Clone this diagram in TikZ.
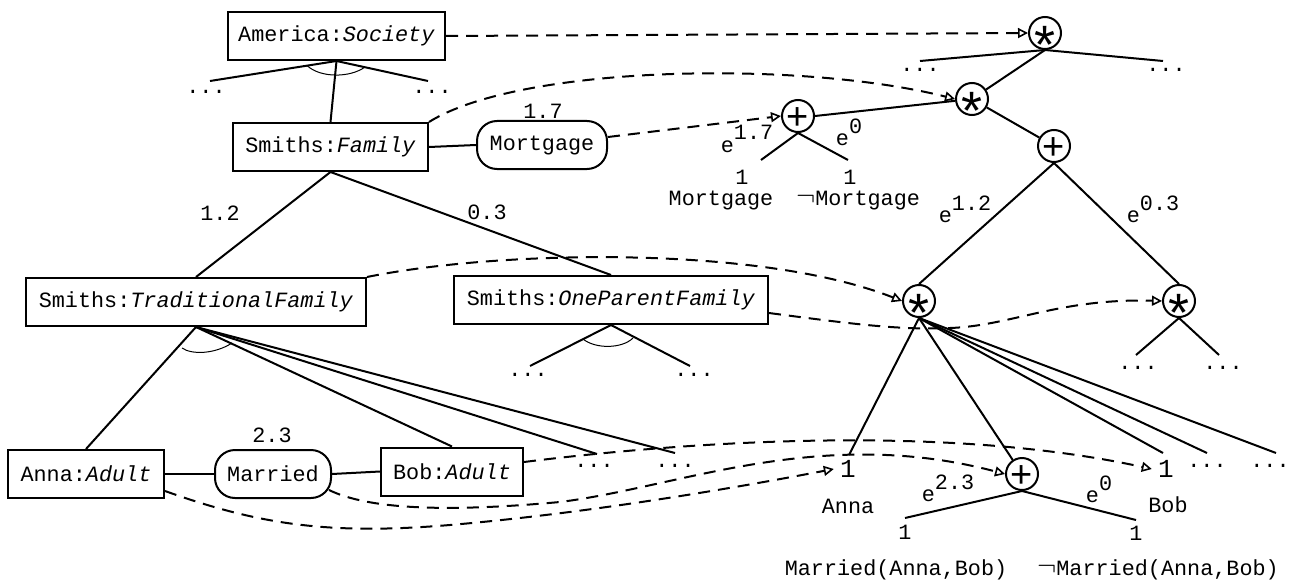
\documentclass[tikz,border=0pt]{standalone}
\usepackage{fontspec}
\setmainfont{Liberation Serif}
\setmonofont{Liberation Mono}
\newfontfamily\symfont{Liberation Sans}
\usetikzlibrary{arrows.meta}
\newcommand\opast{{\symfont\fontsize{27}{27}\selectfont\makebox[0pt]{\raisebox{-0.56em}[0pt][0pt]{*}}}}
\newcommand\opplus{{\symfont\fontsize{19}{19}\selectfont\makebox[0pt]{\raisebox{-0.36em}[0pt][0pt]{+}}}}
\newcommand\expo[1]{e\raisebox{0.56em}{#1}}
\newcommand\lneg{{\fontsize{15}{15}\selectfont$\neg$}}
\begin{document}
\begin{tikzpicture}[x=0.5pt,y=-0.5pt,
  every node/.style={font=\ttfamily\fontsize{10.9}{12}\selectfont},
  cbox/.style={draw, line width=1pt, minimum height=24pt, inner sep=0pt},
  rbox/.style={cbox, rounded corners=10pt},
  opn/.style={draw, circle, line width=1pt, minimum size=16pt, inner sep=0pt},
  edge/.style={line width=1pt},
  tarc/.style={line width=0.5pt},
  map/.style={line width=1pt, dash pattern=on 6pt off 4pt, -{Triangle[open,length=5pt,width=5pt,line width=0.8pt]}},
  lbl/.style={inner sep=0pt},
  leaf/.style={inner sep=0pt, font=\ttfamily\fontsize{13}{13}\selectfont},
]
\useasboundingbox (0,0) rectangle (1289,583);

% concept boxes
\node[cbox, minimum width=108.5pt] (america) at (336.5,36) {America:\textit{Society}};
\node[cbox, minimum width=97.5pt] (family) at (330.5,147) {Smiths:\textit{Family}};
\node[rbox, minimum width=65pt] (mortgage) at (542,145) {Mortgage};
\node[cbox, minimum width=170pt] (trad) at (196,302) {Smiths:\textit{TraditionalFamily}};
\node[cbox, minimum width=157pt] (onep) at (611,300) {Smiths:\textit{OneParentFamily}};
\node[cbox, minimum width=78pt] (anna) at (86,474) {Anna:\textit{Adult}};
\node[rbox, minimum width=58pt] (married) at (273,474) {Married};
\node[cbox, minimum width=71pt] (bob) at (452,471.5) {Bob:\textit{Adult}};

% left labels
\node[lbl] (w17) at (543,111) {1.7};
\node[lbl] (w23) at (272,435) {2.3};
\node[lbl] (w12) at (220,213) {1.2};
\node[lbl] (w03) at (487,212) {0.3};

% America fan
\coordinate (aL) at (210,81);
\coordinate (aR) at (428,81);
\node[lbl] (aLd) at (206,92) {...};
\node[lbl] (aRd) at (432,92) {...};
\draw[edge] (aL) -- (america.south) -- (aR);
\draw[edge] (america.south) -- (family.north);
\draw[tarc] (307,65.5) .. controls (320,78) and (350,78) .. (365,67);

\draw[edge] (family.east) -- (mortgage.west);
\draw[edge] (family.south) -- (trad.north);
\draw[edge] (family.south) -- (onep.north);

% One parent fan
\coordinate (oL) at (530,366);
\coordinate (oR) at (690,366);
\node[lbl] (oLd) at (528,375) {...};
\node[lbl] (oRd) at (694,375) {...};
\draw[edge] (oL) -- (onep.south) -- (oR);
\draw[tarc] (583,339) .. controls (595,349) and (622,349) .. (633,338);

% Traditional fan
\coordinate (tD1) at (597,454);
\coordinate (tD2) at (675,453);
\node[lbl] (tD1d) at (594,466) {...};
\node[lbl] (tD2d) at (675,466) {...};
\draw[edge] (trad.south) -- (anna.north);
\draw[edge] (trad.south) -- (bob.north);
\draw[edge] (trad.south) -- (tD1);
\draw[edge] (trad.south) -- (tD2);
\draw[tarc] (182,348) .. controls (192,355) and (215,354) .. (232,343);

\draw[edge] (anna.east) -- (married.west);
\draw[edge] (married.east) -- (bob.west);

% circuit
\node[opn] (s1) at (1045,33) {\opast};
\node[opn] (s2) at (972,99) {\opast};
\node[opn] (pm) at (798,116) {\opplus};
\node[opn] (p1) at (1054,146) {\opplus};
\node[opn] (s3) at (919,301) {\opast};
\node[opn] (s4) at (1179,301) {\opast};
\node[opn] (pa) at (1022,474) {\opplus};

\coordinate (sL) at (920,61);
\coordinate (sR) at (1163,61);
\node[lbl] (sLd) at (920,70) {...};
\node[lbl] (sRd) at (1166,70) {...};
\draw[edge] (sL) -- (s1.south) -- (sR);
\draw[edge] (s1.south) -- (s2);
\draw[edge] (pm.east) -- (s2);
\draw[edge] (s2) -- (p1);
\draw[edge] (p1.south) -- (s3.north);
\draw[edge] (p1.south) -- (s4.north);
\node[lbl] (e12) at (965,209) {\expo{1.2}};
\node[lbl] (e03) at (1153,209) {\expo{0.3}};

% mortgage plus
\coordinate (mL) at (761,160);
\coordinate (mR) at (848,160);
\draw[edge] (mL) -- (pm.south) -- (mR);
\node[lbl] (e17) at (747,139) {\expo{1.7}};
\node[lbl] (e0m) at (849,132) {\expo{0}};
\node[lbl] (m1a) at (742,177) {1};
\node[lbl] (m1b) at (850,177) {1};
\node[lbl] (mt) at (721,200) {Mortgage};
\node[lbl] (nmt) at (858,200) {\lneg Mortgage};

% s4 fan
\coordinate (s4L) at (1136,355);
\coordinate (s4R) at (1219,355);
\node[lbl] (s4Ld) at (1138,368) {...};
\node[lbl] (s4Rd) at (1223,368) {...};
\draw[edge] (s4L) -- (s4.south) -- (s4R);

% s3 fan
\node[leaf] (leafA) at (848,469) {1};
\node[leaf] (leafB) at (1166,469) {1};
\coordinate (tA) at (849,455);
\coordinate (tB) at (1163,453);
\coordinate (tC) at (1207,453);
\coordinate (tE) at (1276,453);
\node[lbl] (tCd) at (1207,466) {...};
\node[lbl] (tEd) at (1270,466) {...};
\draw[edge] (s3.south) -- (tA);
\draw[edge] (s3.south) -- (pa);
\draw[edge] (s3.south) -- (tB);
\draw[edge] (s3.south) -- (tC);
\draw[edge] (s3.south) -- (tE);
\node[lbl] (annaL) at (848,506) {Anna};
\node[lbl] (bobL) at (1168,505) {Bob};

% married plus
\coordinate (pL) at (905,518);
\coordinate (pR) at (1136,520);
\draw[edge] (pL) -- (pa.south) -- (pR);
\node[lbl] (e23) at (948,488) {\expo{2.3}};
\node[lbl] (e0a) at (1099,489) {\expo{0}};
\node[lbl] (p1a) at (905,532) {1};
\node[lbl] (p1b) at (1136,533) {1};
\node[lbl] (ma) at (896,570) {Married(Anna,Bob)};
\node[lbl] (nma) at (1158,570) {\lneg Married(Anna,Bob)};

% mapping arrows
\draw[map] (america.east) -- (s1.west);
\draw[map] (family.north east) .. controls (520,65) and (800,60) .. (s2.west);
\draw[map] ([yshift=4pt]mortgage.east) -- (pm.west);
\draw[map] (trad.north east) .. controls (500,250) and (760,245) .. (s3.west);
\draw[map] ([yshift=-6.5pt]onep.east) .. controls (860,325) and (900,330) .. (950,328) .. controls (1010,326) and (1060,298) .. (s4.west);
\draw[map] ([yshift=4.75pt]bob.east) .. controls (700,440) and (950,425) .. ([xshift=-3pt]leafB.west);
\draw[map] ([xshift=-1.5pt,yshift=4.5pt]married.south east) .. controls (370,510) and (450,512) .. (560,502) .. controls (680,487) and (820,425) .. (pa.west);
\draw[map] ([yshift=4pt]anna.south east) .. controls (260,525) and (330,535) .. (450,525) .. controls (600,512) and (750,485) .. ([xshift=-3pt]leafA.west);
\end{tikzpicture}
\end{document}
